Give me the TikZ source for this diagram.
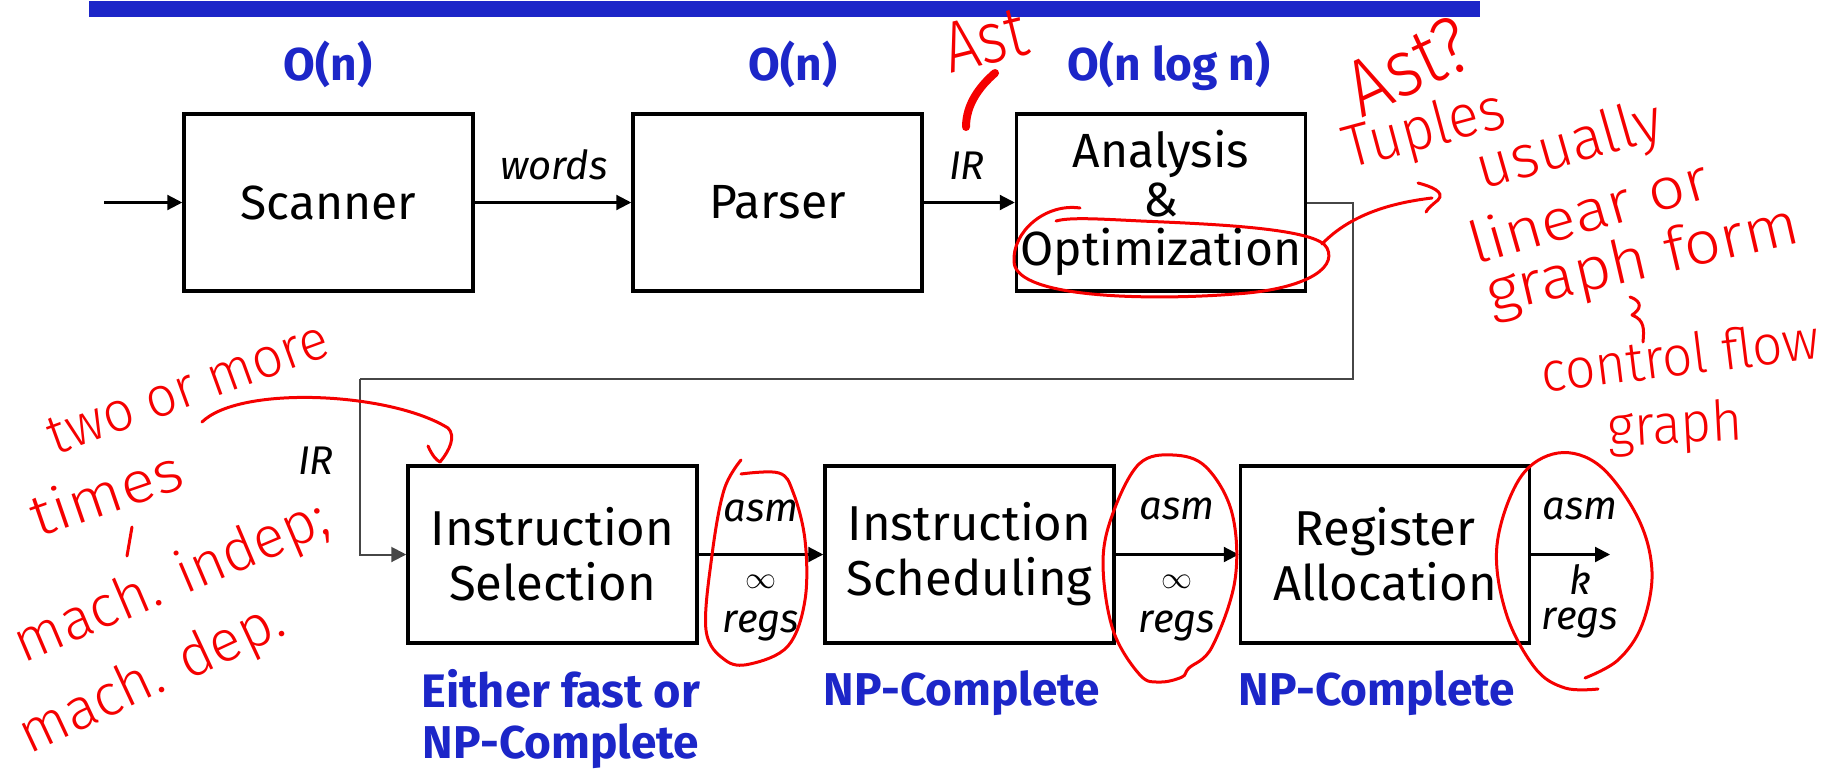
\documentclass[tikz,border=0pt]{standalone}
\usepackage{fontspec}
\setmainfont{Fira Sans}
\newfontfamily\handfont{Fira Sans Light}
\usetikzlibrary{arrows.meta}
\definecolor{slblue}{RGB}{28,38,200}
\definecolor{ink}{RGB}{245,0,0}
\definecolor{wire}{RGB}{70,70,70}
\newcommand{\hwtext}[2]{\scalebox{#1}[1]{#2}}
\newcommand{\bigINF}{\resizebox{31pt}{!}{$\infty$}}
\begin{document}
\begin{tikzpicture}[x=1pt,y=-1pt,
  stage/.style={draw, line width=3.5pt, minimum width=289pt, minimum height=177pt, inner sep=0pt, align=center},
  flow/.style={line width=2.2pt, -{Triangle[length=15pt,width=15pt]}},
  back/.style={draw=wire, line width=2pt},
  lab/.style={inner sep=0pt, font=\itshape\fontsize{40}{40}\selectfont},
  inf/.style={inner sep=0pt},
  cost/.style={inner sep=0pt, anchor=base, text=slblue, font=\bfseries\fontsize{46}{46}\selectfont},
  hand/.style={inner sep=0pt, text=ink, font=\handfont\fontsize{#1}{#1}\selectfont},
  hand/.default=58,
  inkline/.style={draw=ink, line width=3pt, line cap=round, line join=round},
]
\useasboundingbox (0,0) rectangle (1843,769);
% title bar
\fill[slblue] (89,1) rectangle (1480,17);

% stages
\node[stage, font=\fontsize{48}{50}\selectfont] (scanner) at (328.5,202.5) {Scanner};
\node[stage, font=\fontsize{48}{50}\selectfont] (parser) at (777.5,202.5) {Parser};
\node[stage, font=\fontsize{48}{49}\selectfont] (analysis) at (1161,202.5) {Analysis\\\&\\Optimization};
\node[stage, font=\fontsize{49}{55}\selectfont] (isel) at (552.5,554.5) {Instruction\\Selection};
\node[stage, font=\fontsize{49}{55}\selectfont] (isched) at (969.5,554.5) {Instruction\\Scheduling};
\node[stage, font=\fontsize{49}{55}\selectfont] (ralloc) at (1385,554.5) {Register\\Allocation};

% complexity labels
\node[cost] (c1) at (328,80) {O(n)};
\node[cost] (c2) at (793,80) {O(n)};
\node[cost] (c3) at (1169,80) {O(n log n)};
\node[cost, font=\bfseries\fontsize{47}{47}\selectfont] (c4) at (561,707) {Either fast or};
\node[cost] (c5) at (561,758) {NP-Complete};
\node[cost] (c6) at (962,705) {NP-Complete};
\node[cost] (c7) at (1377,705) {NP-Complete};

% connectors
\coordinate (start) at (104,202.5);
\coordinate (finish) at (1610,554.5);
\coordinate (r1) at (1353,379);
\coordinate (r2) at (360,379);
\draw[flow] (start) -- (scanner);
\draw[flow] (scanner) -- (parser);
\draw[flow] (parser) -- (analysis);
\draw[back] (analysis.east) -| (r1) -- (r2);
\draw[flow, draw=wire, line width=2pt] (r2) |- (isel);
\draw[flow] (isel) -- (isched);
\draw[flow] (isched) -- (ralloc);
\draw[flow] (ralloc) -- (finish);

% connector labels
\node[lab] (l1) at (554,165) {words};
\node[lab] (l2) at (967,166) {IR};
\node[lab] (l3) at (316,461) {IR};
\node[lab] (l4) at (761,511) {asm};
\node[inf] (l5) at (761,582) {\bigINF};
\node[lab] (l6) at (761,626) {regs};
\node[lab] (l7) at (1177,509) {asm};
\node[inf] (l8) at (1177,582) {\bigINF};
\node[lab] (l9) at (1177,626) {regs};
\node[lab] (l10) at (1580,509) {asm};
\node[lab] (l11) at (1580,579) {k};
\node[lab] (l12) at (1580,623) {regs};

% handwritten annotations
\node[hand=72, rotate=14] (h1) at (985,40) {\hwtext{0.85}{Ast}};
\draw[draw=ink, line width=8pt, line cap=round] (995,73) .. controls (980,86) and (966,104) .. (966,127);
\node[hand=80, rotate=25] (h2) at (1408,66) {\hwtext{0.9}{Ast?}};
\node[hand=60, rotate=15] (h3) at (1425,132) {\hwtext{0.95}{Tuples}};
\node[hand=60, rotate=16] (h4) at (1570,148) {\hwtext{1.0}{usually}};
\node[hand=58, rotate=16] (h5) at (1588,210) {\hwtext{1.12}{linear or}};
\node[hand=60, rotate=13] (h6) at (1643,262) {\hwtext{1.08}{graph form}};
\node[hand=56, rotate=7] (h7) at (1680,355) {\hwtext{0.95}{control flow}};
\node[hand=56, rotate=3] (h8) at (1675,428) {\hwtext{0.95}{graph}};
\node[hand=56, rotate=20] (h9) at (188,388) {\hwtext{0.97}{two or more}};
\node[hand=58, rotate=19] (h10) at (106,492) {\hwtext{1.1}{times}};
\node[hand=58, rotate=23] (h11) at (172,583) {\hwtext{1.0}{mach. indep;}};
\node[hand=58, rotate=25] (h12) at (152,680) {\hwtext{1.0}{mach. dep.}};

% red strokes
\draw[inkline] (1080,208) .. controls (1045,203) and (1012,232) .. (1014,262) .. controls (1016,300) and (1160,300) .. (1235,294) .. controls (1300,290) and (1338,270) .. (1327,248) .. controls (1318,228) and (1210,224) .. (1141,221) .. controls (1100,219) and (1070,217) .. (1056,221);
\draw[inkline] (1322,244) .. controls (1350,215) and (1390,203) .. (1432,198);
\draw[inkline] (1418,183) .. controls (1430,186) and (1446,192) .. (1438,200) .. controls (1432,205) and (1428,208) .. (1426,212);
\draw[inkline] (1630,297) .. controls (1644,302) and (1640,310) .. (1632,315) .. controls (1645,320) and (1644,330) .. (1643,342);
\draw[inkline] (132,527) -- (127,556);
\draw[inkline] (202,422) .. controls (240,385) and (390,392) .. (448,428) .. controls (456,436) and (450,450) .. (440,462);
\draw[inkline] (428,446) .. controls (432,455) and (436,460) .. (440,462);
\draw[inkline] plot[smooth, tension=0.6] coordinates {(741,460) (724,490) (712,555) (706,630) (725,660) (750,664) (788,646) (805,600) (805,540) (793,492) (779,473) (741,474)};
\draw[inkline] plot[smooth cycle, tension=0.6] coordinates {(1173,455) (1139,464) (1113,513) (1103,563) (1113,630) (1140,675) (1160,682) (1182,677) (1189,668) (1212,647) (1235,580) (1232,513) (1206,467)};
\draw[inkline] plot[smooth, tension=0.6] coordinates {(1585,678) (1618,660) (1642,625) (1652,572) (1638,518) (1600,466) (1558,453) (1520,478) (1497,545) (1506,613) (1535,668) (1565,688) (1598,689)};
\end{tikzpicture}
\end{document}
